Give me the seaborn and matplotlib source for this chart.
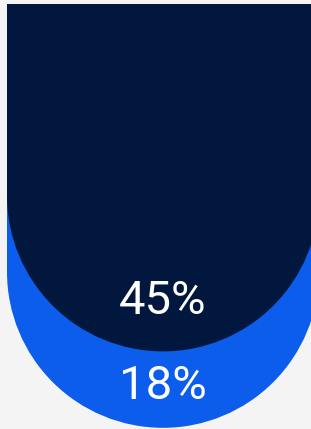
import matplotlib
matplotlib.use("Agg")
import matplotlib.pyplot as plt
from matplotlib.patches import Ellipse
import pandas as pd
import seaborn as sns

# Data: stacked shares (top layer first)
layers = ["Dark", "Blue"]
shares = [45, 18]
labels = ["45%", "18%"]
colors = ["#02173d", "#0c5deb"]

bg = "#f4f4f4"
sns.set_style("white")
plt.rcParams["font.family"] = ["Roboto", "DejaVu Sans"]

fig = plt.figure(figsize=(3.11, 4.29), dpi=100, facecolor=bg)
ax = fig.add_axes([0, 0, 1, 1])
ax.set_facecolor(bg)

# cumulative depth of each layer
cum = pd.Series(shares).cumsum().tolist()
df = pd.DataFrame({"layer": layers, "depth": cum, "label": labels})

# y scale: px per unit, cap radius in y units
px_per_unit = 429 / 101
radius_y = 156 / px_per_unit

# draw from the deepest layer up so the top layer overlaps
for i in reversed(range(len(df))):
    row = df.iloc[i]
    sns.barplot(x=["share"], y=[row["depth"]], color=colors[i], width=0.8,
                linewidth=0, saturation=1, ax=ax)
    bar = ax.patches[-1]
    cx = bar.get_x() + bar.get_width() / 2
    ax.add_patch(Ellipse((cx, row["depth"]), bar.get_width(), 2 * radius_y,
                         facecolor=colors[i], edgecolor="none", zorder=bar.get_zorder()))
    ax.text(cx, row["depth"] + 0.68 * radius_y + i * 1.8, row["label"],
            color="white", fontsize=34, ha="center", va="center", zorder=5)

# x scale so the bar spans ~312 px starting at 7 px
px_per_x = 312 / 0.8
left = -0.4 - 7 / px_per_x
ax.set_xlim(left, left + 311 / px_per_x)
ax.set_ylim(100, -1)

ax.set_axis_off()
fig.savefig("out.png", dpi=100, facecolor=bg)
